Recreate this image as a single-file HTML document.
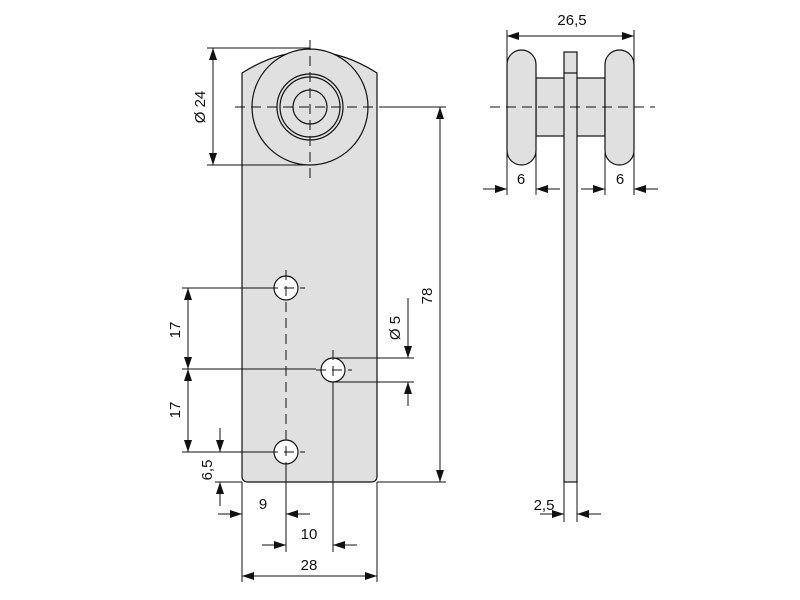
<!DOCTYPE html>
<html><head><style>body{margin:0;background:#fff}svg{display:block}text{font-family:"Liberation Sans",sans-serif;font-size:15px;fill:#111}</style></head>
<body>
<svg width="800" height="600" viewBox="0 0 800 600">
<defs>
<marker id="a" markerWidth="12" markerHeight="8" refX="12" refY="4" orient="auto" markerUnits="userSpaceOnUse"><path d="M0,0 L12,4 L0,8 Z" fill="#111"/></marker>
<marker id="b" markerWidth="12" markerHeight="8" refX="0" refY="4" orient="auto" markerUnits="userSpaceOnUse"><path d="M12,0 L0,4 L12,8 Z" fill="#111"/></marker>
</defs>
<g stroke="#111" stroke-width="1.2" fill="#e0e0e0">
<path d="M242,73 Q310,30 377,73 L377,476 Q377,482 371,482 L248,482 Q242,482 242,476 Z"/>
<circle cx="310" cy="107" r="58"/>
<circle cx="310" cy="107" r="33"/>
<circle cx="310" cy="107" r="30"/>
<circle cx="310" cy="107" r="17"/>
<circle cx="286" cy="288" r="12" fill="#fff"/>
<circle cx="333" cy="370" r="12" fill="#fff"/>
<circle cx="286" cy="452" r="12" fill="#fff"/>
<rect x="536" y="78" width="69" height="58"/>
<rect x="507" y="50" width="29" height="115" rx="14.5"/>
<rect x="605" y="50" width="29" height="115" rx="14.5"/>
<rect x="564" y="52" width="13" height="430"/>
<line x1="564" y1="73" x2="577" y2="73"/>
</g>
<g stroke="#111" stroke-width="1" stroke-dasharray="10,6" fill="none">
<line x1="310" y1="40" x2="310" y2="180"/>
<line x1="235" y1="107" x2="380" y2="107"/>
<line x1="286" y1="270" x2="286" y2="470"/>
<line x1="490" y1="107" x2="655" y2="107"/>
<line x1="333" y1="350" x2="333" y2="386"/>
<line x1="316" y1="370" x2="352" y2="370"/>
<line x1="268" y1="288" x2="305" y2="288"/>
<line x1="268" y1="452" x2="305" y2="452"/>
</g>
<g stroke="#111" stroke-width="1" fill="none">
<line x1="207" y1="48" x2="310" y2="48"/>
<line x1="207" y1="165" x2="310" y2="165"/>
<line x1="213" y1="48" x2="213" y2="165" marker-start="url(#b)" marker-end="url(#a)"/>
<line x1="380" y1="107" x2="446" y2="107"/>
<line x1="377" y1="482" x2="446" y2="482"/>
<line x1="440" y1="107" x2="440" y2="482" marker-start="url(#b)" marker-end="url(#a)"/>
<line x1="182" y1="288" x2="268" y2="288"/>
<line x1="182" y1="369" x2="316" y2="369"/>
<line x1="182" y1="452" x2="268" y2="452"/>
<line x1="188" y1="288" x2="188" y2="369" marker-start="url(#b)" marker-end="url(#a)"/>
<line x1="188" y1="369" x2="188" y2="452" marker-start="url(#b)" marker-end="url(#a)"/>
<line x1="215" y1="482" x2="242" y2="482"/>
<line x1="220" y1="428" x2="220" y2="452" marker-end="url(#a)"/>
<line x1="220" y1="506" x2="220" y2="482" marker-end="url(#a)"/>
<line x1="333" y1="358" x2="414" y2="358"/>
<line x1="333" y1="382" x2="414" y2="382"/>
<line x1="408" y1="298" x2="408" y2="358" marker-end="url(#a)"/>
<line x1="408" y1="406" x2="408" y2="382" marker-end="url(#a)"/>
<line x1="242" y1="482" x2="242" y2="582"/>
<line x1="377" y1="482" x2="377" y2="582"/>
<line x1="286" y1="464" x2="286" y2="552"/>
<line x1="333" y1="382" x2="333" y2="552"/>
<line x1="218" y1="514" x2="242" y2="514" marker-end="url(#a)"/>
<line x1="310" y1="514" x2="286" y2="514" marker-end="url(#a)"/>
<line x1="262" y1="545" x2="286" y2="545" marker-end="url(#a)"/>
<line x1="357" y1="545" x2="333" y2="545" marker-end="url(#a)"/>
<line x1="242" y1="576" x2="377" y2="576" marker-start="url(#b)" marker-end="url(#a)"/>
<line x1="507" y1="30" x2="507" y2="195"/>
<line x1="634" y1="30" x2="634" y2="195"/>
<line x1="507" y1="36" x2="634" y2="36" marker-start="url(#b)" marker-end="url(#a)"/>
<line x1="536" y1="140" x2="536" y2="195"/>
<line x1="605" y1="140" x2="605" y2="195"/>
<line x1="483" y1="189" x2="507" y2="189" marker-end="url(#a)"/>
<line x1="560" y1="189" x2="536" y2="189" marker-end="url(#a)"/>
<line x1="581" y1="189" x2="605" y2="189" marker-end="url(#a)"/>
<line x1="658" y1="189" x2="634" y2="189" marker-end="url(#a)"/>
<line x1="564" y1="482" x2="564" y2="522"/>
<line x1="577" y1="482" x2="577" y2="522"/>
<line x1="540" y1="514" x2="564" y2="514" marker-end="url(#a)"/>
<line x1="601" y1="514" x2="577" y2="514" marker-end="url(#a)"/>
</g>
<text x="572" y="25" text-anchor="middle">26,5</text>
<text x="521" y="184" text-anchor="middle">6</text>
<text x="620" y="184" text-anchor="middle">6</text>
<text x="544" y="510" text-anchor="middle">2,5</text>
<text x="263" y="509" text-anchor="middle">9</text>
<text x="309" y="539" text-anchor="middle">10</text>
<text x="309" y="570" text-anchor="middle">28</text>
<text transform="translate(205,107) rotate(-90)" text-anchor="middle">Ø 24</text>
<text transform="translate(432,296) rotate(-90)" text-anchor="middle">78</text>
<text transform="translate(400,328) rotate(-90)" text-anchor="middle">Ø 5</text>
<text transform="translate(180,330) rotate(-90)" text-anchor="middle">17</text>
<text transform="translate(180,410) rotate(-90)" text-anchor="middle">17</text>
<text transform="translate(212,470) rotate(-90)" text-anchor="middle">6,5</text>
</svg>
</body></html>
